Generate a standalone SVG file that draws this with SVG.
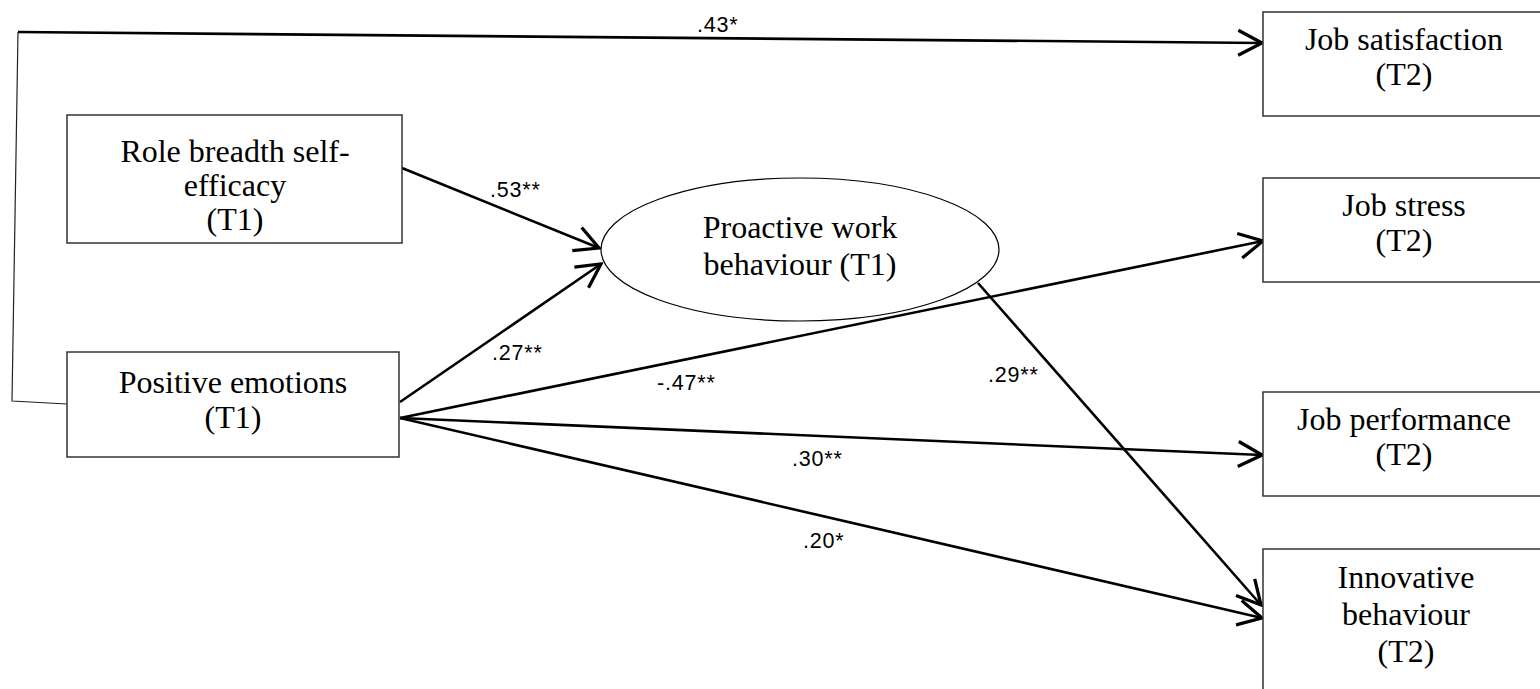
<svg xmlns="http://www.w3.org/2000/svg" width="1540" height="689" viewBox="0 0 1540 689">
<style>
.box{fill:#fff;stroke:#333;stroke-width:1.5}
.ell{fill:#fff;stroke:#000;stroke-width:1.2}
.t{font-family:"Liberation Serif","Times New Roman",serif;font-size:32px;fill:#000;text-anchor:middle}
.lbl{font-family:"Liberation Sans",Arial,sans-serif;font-size:21.5px;letter-spacing:0.8px;fill:#000}
.arr{fill:none;stroke:#000;stroke-width:2.6;marker-end:url(#ah)}
.thin{fill:none;stroke:#222;stroke-width:1.2}
</style>
<defs>
<marker id="ah" markerUnits="userSpaceOnUse" markerWidth="30" markerHeight="30" viewBox="-22 -12 24 24" refX="0" refY="0" orient="auto">
<path d="M-19,-10 L0,0 L-19,10" fill="none" stroke="#000" stroke-width="2.6"/>
</marker>
</defs>
<rect width="1540" height="689" fill="#fff"/>
<g id="connectors">
<polyline class="thin" points="67,404 12,401 18,32"/>
<line class="arr" x1="18" y1="32" x2="1262" y2="43"/>
<line class="arr" x1="402" y1="168" x2="599" y2="248"/>
<line class="arr" x1="400" y1="402" x2="601" y2="264"/>
<line class="arr" x1="400" y1="418" x2="1263" y2="241"/>
<line class="arr" x1="400" y1="418" x2="1262" y2="455"/>
<line class="arr" x1="400" y1="418" x2="1262" y2="618"/>
<line class="arr" x1="978" y1="283" x2="1261" y2="605"/>
</g>
<g id="labels">
<text class="lbl" x="697" y="32">.43*</text>
<text class="lbl" x="490" y="197">.53**</text>
<text class="lbl" x="492" y="360">.27**</text>
<text class="lbl" x="657" y="390">-.47**</text>
<text class="lbl" x="988" y="382">.29**</text>
<text class="lbl" x="792" y="466">.30**</text>
<text class="lbl" x="803" y="548">.20*</text>
</g>
<g id="role-breadth">
<rect class="box" x="67" y="115" width="335" height="128"/>
<text class="t" x="235" y="162">Role breadth self-</text>
<text class="t" x="235" y="196">efficacy</text>
<text class="t" x="235" y="230">(T1)</text>
</g>
<g id="positive-emotions">
<rect class="box" x="67" y="352" width="332" height="105"/>
<text class="t" x="233" y="393">Positive emotions</text>
<text class="t" x="233" y="428">(T1)</text>
</g>
<g id="proactive">
<ellipse class="ell" cx="800" cy="249.5" rx="199" ry="71.5"/>
<text class="t" x="800" y="238">Proactive work</text>
<text class="t" x="800" y="275">behaviour (T1)</text>
</g>
<g id="job-satisfaction">
<rect class="box" x="1263" y="12" width="290" height="104"/>
<text class="t" x="1404" y="50">Job satisfaction</text>
<text class="t" x="1404" y="85">(T2)</text>
</g>
<g id="job-stress">
<rect class="box" x="1263" y="178" width="290" height="104"/>
<text class="t" x="1404" y="216">Job stress</text>
<text class="t" x="1404" y="251">(T2)</text>
</g>
<g id="job-performance">
<rect class="box" x="1263" y="392" width="290" height="104"/>
<text class="t" x="1404" y="430">Job performance</text>
<text class="t" x="1404" y="465">(T2)</text>
</g>
<g id="innovative">
<rect class="box" x="1263" y="549" width="290" height="160"/>
<text class="t" x="1406" y="588">Innovative</text>
<text class="t" x="1406" y="625">behaviour</text>
<text class="t" x="1406" y="662">(T2)</text>
</g>
</svg>
